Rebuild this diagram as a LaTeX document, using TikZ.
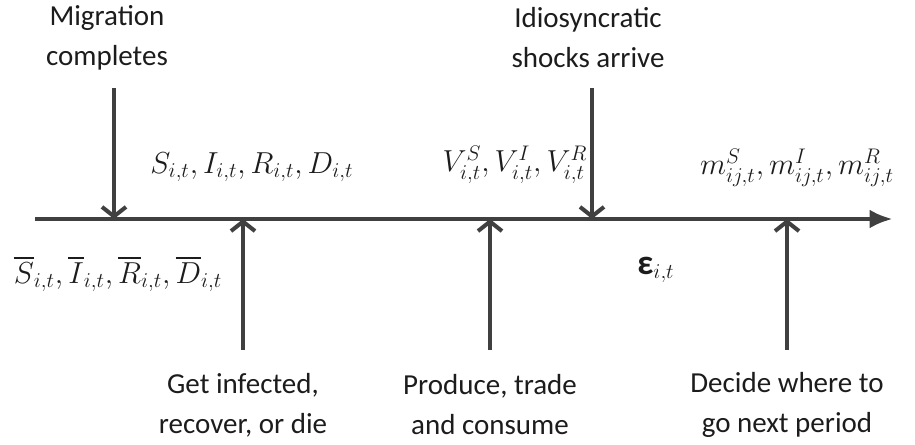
\documentclass[tikz,border=0pt]{standalone}
\usepackage{amsmath}
\usepackage[no-math]{fontspec}
\setmainfont{Carlito}
\usetikzlibrary{arrows.meta}
\definecolor{linegray}{RGB}{64,64,64}
\definecolor{textgray}{RGB}{28,28,28}

\begin{document}
\begin{tikzpicture}[every node/.style={font=\fontsize{16.5}{22.8}\selectfont, text=textgray, align=center},
	mathlabel/.style={font=\fontsize{17.5}{21}\selectfont},
	>={Straight Barb[length=1.9mm,width=4.8mm]}, event/.style={->, draw=linegray, line width=2.3pt}]
	\useasboundingbox (0,0) rectangle (18.3,8.9);
	% time line
	\coordinate (t0) at (0.7,4.52); \coordinate (t1) at (17.85,4.52);
	\draw[linegray, line width=2.3pt, -{Latex[length=4.6mm,width=3.8mm]}] (t0) -- (t1);
	% events from above
	\node (mig) at (2.14,8.14) {Migration\\completes};
	\coordinate (migtop) at (2.28,7.14); \coordinate (migend) at (2.28,4.52);
	\draw[event] (migtop) -- (migend);
	\node (shock) at (11.76,8.14) {Idiosyncratic\\shocks arrive};
	\coordinate (shocktop) at (11.84,7.14); \coordinate (shockend) at (11.84,4.52);
	\draw[event] (shocktop) -- (shockend);
	% events from below
	\node (infect) at (4.86,0.8) {Get infected,\\recover, or die};
	\coordinate (infectbot) at (4.86,1.9); \coordinate (infectend) at (4.86,4.52);
	\draw[event] (infectbot) -- (infectend);
	\node (produce) at (9.8,0.8) {Produce, trade\\and consume};
	\coordinate (producebot) at (9.8,1.9); \coordinate (produceend) at (9.8,4.52);
	\draw[event] (producebot) -- (produceend);
	\node (decide) at (15.74,0.8) {Decide where to\\go next period};
	\coordinate (decidebot) at (15.74,1.9); \coordinate (decideend) at (15.74,4.52);
	\draw[event] (decidebot) -- (decideend);
	% states along the line
	\node[mathlabel] (sird) at (5.04,5.56) {$S_{i,t},I_{i,t},R_{i,t},D_{i,t}$};
	\node[mathlabel] (sirdbar) at (2.36,3.42) {$\overline{S}_{i,t},\overline{I}_{i,t},\overline{R}_{i,t},\overline{D}_{i,t}$};
	\node[mathlabel] (val) at (10.3,5.6) {$V^S_{i,t},V^I_{i,t},V^R_{i,t}$};
	\node[mathlabel] (eps) at (13.12,3.5) {$\mbox{\fontsize{20}{22}\selectfont\bfseries ε}_{i,t}$};
	\node[mathlabel] (mshare) at (15.94,5.54) {$m^S_{ij,t},m^I_{ij,t},m^R_{ij,t}$};
\end{tikzpicture}
\end{document}
